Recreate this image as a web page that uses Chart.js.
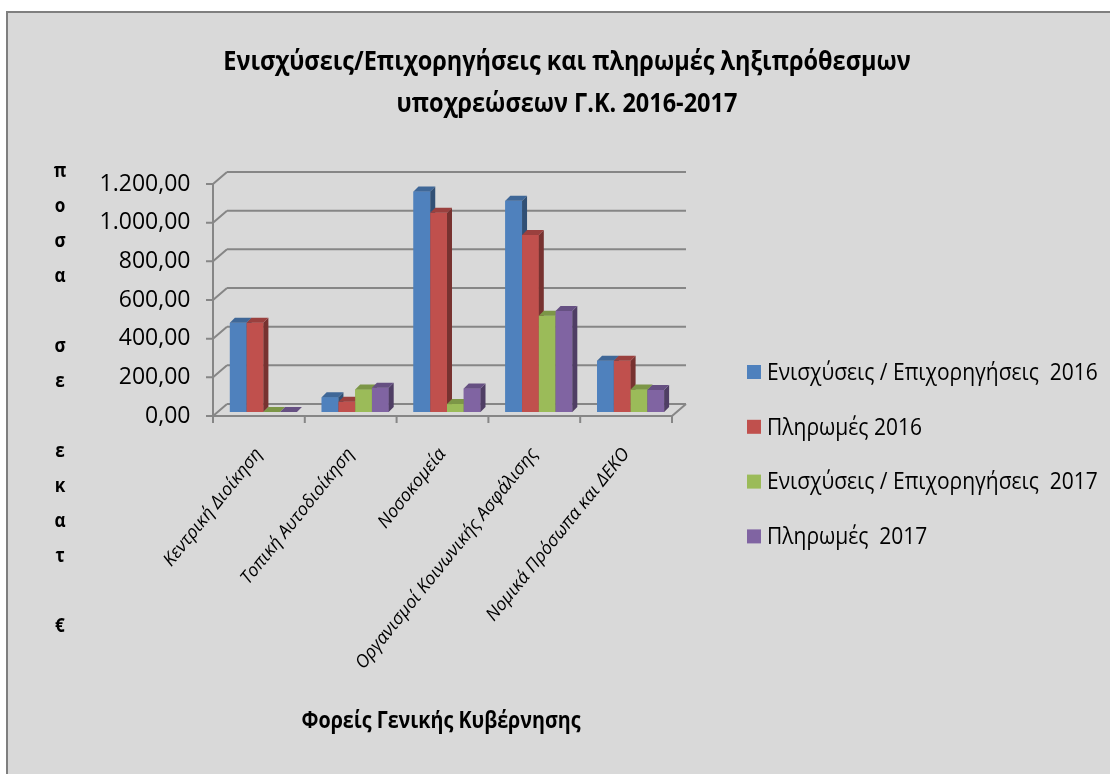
<!DOCTYPE html>
<html>
<head>
<meta charset="utf-8">
<script src="https://cdn.jsdelivr.net/npm/chart.js@4/dist/chart.umd.min.js"></script>
<style>
    html, body { margin:0; padding:0; background:#fff; }
    #wrap { position:relative; width:1110px; height:774px; }
</style>
</head>
<body>
<div id="wrap"><canvas id="c" width="1110" height="774"></canvas></div>
<script>
// ── Data ───────────────────────────────────────
const categories = [
    'Κεντρική Διοίκηση',
    'Τοπική Αυτοδιοίκηση',
    'Νοσοκομεία',
    'Οργανισμοί Κοινωνικής Ασφάλισης',
    'Νομικά Πρόσωπα και ΔΕΚΟ',
];
const grants2016   = [462,   76, 1140, 1093, 265];
const payments2016 = [462,   53, 1031,  916, 265];
const grants2017   = [  0,  117,   41,  498, 117];
const payments2017 = [  0,  126,  122,  522, 114];

const seriesLabels = [
    'Ενισχύσεις / Επιχορηγήσεις  2016',
    'Πληρωμές 2016',
    'Ενισχύσεις / Επιχορηγήσεις  2017',
    'Πληρωμές  2017',
];
const seriesColors = ['#4f81bd', '#c0504d', '#9bbb59', '#8064a2'];

const titleLines = [
    'Ενισχύσεις/Επιχορηγήσεις και πληρωμές ληξιπρόθεσμων',
    'υποχρεώσεων Γ.Κ. 2016-2017',
];
const yTitleChars = ['π','ο','σ','α','','σ','ε','','ε','κ','α','τ','','€'];
const xTitle = 'Φορείς Γενικής Κυβέρνησης';

const FONT = "'Open Sans', sans-serif";

// ── 3D look: offsets relative to the plane the bars stand in ──
const FRONT = { x: -4.5, y:  4 };   // front edge of floor / value axis
const BACK  = { x:  9.5, y: -8 };   // back wall
const DEPTH = { x:  5,   y: -5 };   // bar thickness
const WALL  = '#868686';

function shade(hex, f) {
    const n = parseInt(hex.slice(1), 16);
    const r = Math.round(((n >> 16) & 255) * f);
    const g = Math.round(((n >> 8) & 255) * f);
    const b = Math.round((n & 255) * f);
    return `rgb(${r},${g},${b})`;
}

// 1200 -> "1.200,00"
function grNum(v) {
    const [i, d] = v.toFixed(2).split('.');
    return i.replace(/\B(?=(\d{3})+(?!\d))/g, '.') + ',' + d;
}

function poly(ctx, pts, fill) {
    ctx.beginPath();
    ctx.moveTo(pts[0][0], pts[0][1]);
    for (let i = 1; i < pts.length; i++) ctx.lineTo(pts[i][0], pts[i][1]);
    ctx.closePath();
    ctx.fillStyle = fill;
    ctx.fill();
}

// narrow text: squeeze horizontally around the anchor point
function narrowText(ctx, text, x, y, sx) {
    ctx.save();
    ctx.translate(x, y);
    ctx.scale(sx, 1);
    ctx.fillText(text, 0, 0);
    ctx.restore();
}

// Panel, walls, floor and the texts around the plot
const frame = {
    id: 'frame',
    beforeDraw(chart) {
        const { ctx, width, height, chartArea: a } = chart;
        ctx.save();
        ctx.fillStyle = '#fff';
        ctx.fillRect(0, 0, width, height);
        ctx.fillStyle = '#d9d9d9';
        ctx.fillRect(7, 12, width - 7, height - 12);
        ctx.strokeStyle = '#7f7f7f';
        ctx.lineWidth = 2;
        ctx.beginPath();
        ctx.moveTo(7, height);
        ctx.lineTo(7, 12);
        ctx.lineTo(width, 12);
        ctx.stroke();

        // title
        ctx.fillStyle = '#000';
        ctx.textAlign = 'center';
        ctx.textBaseline = 'middle';
        ctx.font = `bold 27px ${FONT}`;
        titleLines.forEach((t, i) => narrowText(ctx, t, 567, 62 + i * 42, 0.87));

        // stacked value-axis title
        ctx.font = `bold 19px ${FONT}`;
        yTitleChars.forEach((t, i) => narrowText(ctx, t, 60, 172 + i * 35, 0.9));

        // category-axis title
        ctx.font = `bold 24px ${FONT}`;
        narrowText(ctx, xTitle, (a.left + a.right) / 2 - 6, 721, 0.82);

        // legend
        ctx.textAlign = 'left';
        ctx.font = `24px ${FONT}`;
        seriesLabels.forEach((t, i) => {
            const y = 372 + i * 54.8;
            ctx.fillStyle = seriesColors[i];
            ctx.fillRect(747, y - 7, 14, 14);
            ctx.fillStyle = '#000';
            narrowText(ctx, t, 767, y + 1, 0.875);
        });
        ctx.restore();
    },
    beforeDatasetsDraw(chart) {
        const { ctx, chartArea: a, scales: { y } } = chart;
        const y0 = y.getPixelForValue(0);
        const fl = a.left + FRONT.x, fr = a.right + FRONT.x;
        const bl = a.left + BACK.x,  br = a.right + BACK.x;
        ctx.save();
        ctx.strokeStyle = WALL;
        ctx.lineWidth = 2;
        ctx.beginPath();
        y.ticks.forEach(t => {
            const py = y.getPixelForValue(t.value);
            // back wall line + side wall diagonal + tick mark
            ctx.moveTo(bl, py + BACK.y);
            ctx.lineTo(br, py + BACK.y);
            ctx.moveTo(fl, py + FRONT.y);
            ctx.lineTo(bl, py + BACK.y);
            ctx.moveTo(fl - 7, py + FRONT.y);
            ctx.lineTo(fl, py + FRONT.y);
        });
        // value axis
        ctx.moveTo(fl, y.getPixelForValue(y.max) + FRONT.y);
        ctx.lineTo(fl, y0 + FRONT.y);
        // floor front edge and right edge
        ctx.lineTo(fr, y0 + FRONT.y);
        ctx.lineTo(br, y0 + BACK.y);
        // category ticks
        const step = (a.right - a.left) / categories.length;
        for (let i = 0; i <= categories.length; i++) {
            const px = fl + i * step;
            ctx.moveTo(px, y0 + FRONT.y);
            ctx.lineTo(px, y0 + FRONT.y + 7);
        }
        ctx.stroke();
        ctx.restore();
    },
    afterDatasetsDraw(chart) {
        const { ctx } = chart;
        const metas = chart.data.datasets.map((_, i) => chart.getDatasetMeta(i));
        ctx.save();
        categories.forEach((_, c) => {
            metas.forEach((m, d) => {
                const bar = m.data[c];
                const { x, y, base, width } = bar.getProps(['x', 'y', 'base', 'width'], true);
                const l = x - width / 2, r = x + width / 2;
                const col = seriesColors[d];
                // front face, side face, top face
                poly(ctx, [[l, y], [r, y], [r, base], [l, base]], col);
                poly(ctx, [[r, y], [r + DEPTH.x, y + DEPTH.y],
                           [r + DEPTH.x, base + DEPTH.y], [r, base]], shade(col, 0.62));
                poly(ctx, [[l, y], [r, y], [r + DEPTH.x, y + DEPTH.y],
                           [l + DEPTH.x, y + DEPTH.y]], shade(col, 0.8));
            });
        });
        ctx.restore();
    },
};

new Chart(document.getElementById('c'), {
    type: 'bar',
    data: {
        labels: categories,
        datasets: [grants2016, payments2016, grants2017, payments2017].map((v, i) => ({
            label:           seriesLabels[i],
            data:            v,
            backgroundColor: seriesColors[i],
            borderWidth:     0,
            barPercentage:      1.0,
            categoryPercentage: 0.73,
        })),
    },
    options: {
        responsive: false,
        animation:  false,
        layout: { padding: { left: 100, right: 433.5, top: 180, bottom: 32 } },
        plugins: {
            legend:  { display: false },
            tooltip: { enabled: false },
        },
        scales: {
            x: {
                grid:   { display: false, drawTicks: false },
                border: { display: false },
                ticks: {
                    color: '#000',
                    font: { family: FONT, size: 18, style: 'italic' },
                    minRotation: 51,
                    maxRotation: 51,
                    padding: 32,
                    labelOffset: -4.5,
                    autoSkip: false,
                },
                afterFit: s => { s.height = 330; },
            },
            y: {
                min: 0,
                max: 1200,
                grid:   { display: false, drawTicks: false },
                border: { display: false },
                ticks: {
                    stepSize: 200,
                    color: '#000',
                    font: { family: FONT, size: 23 },
                    padding: 27,
                    labelOffset: 4,
                    callback: v => grNum(v),
                },
                afterFit: s => { s.width = 117.5; },
            },
        },
    },
    plugins: [frame],
});
</script>
</body>
</html>
